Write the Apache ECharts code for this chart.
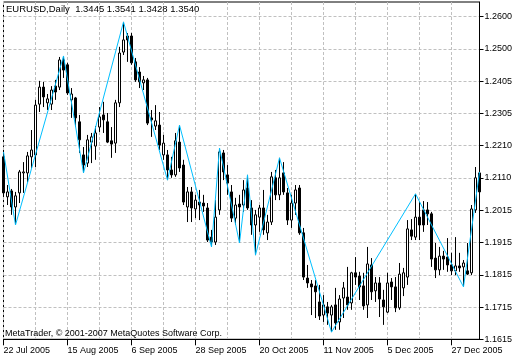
<!DOCTYPE html>
<html><head><meta charset="utf-8">
<script src="https://cdn.jsdelivr.net/npm/echarts@6/dist/echarts.min.js"></script>
<style>html,body{margin:0;padding:0;background:#fff}#c{width:520px;height:360px}</style>
</head><body><div id="c"></div>
<script>
const symbolName = 'EURUSD,Daily';
const lastQuote = ['1.3445', '1.3541', '1.3428', '1.3540'];
const copyright = 'MetaTrader, \u00A9 2001-2007 MetaQuotes Software Corp.';
const barCount = 120;

const open = [1.2172,1.2050,1.2068,1.2019,1.2062,1.2123,1.2123,1.2172,1.2178,1.2333,
1.2385,1.2337,1.2333,1.2388,1.2385,1.2468,1.2453,1.2346,1.2352,1.2279,
1.2178,1.2153,1.2217,1.2205,1.2263,1.2300,1.2279,1.2221,1.2214,1.2337,
1.2492,1.2541,1.2541,1.2462,1.2431,1.2398,1.2407,1.2291,1.2266,1.2269,
1.2178,1.2178,1.2132,1.2117,1.2217,1.2147,1.2019,1.2065,1.2013,1.2034,
1.2031,1.2016,1.1927,1.1912,1.2010,1.2184,1.2117,1.2065,1.1985,1.2028,
1.2025,1.2077,1.2016,1.1964,1.1988,1.2016,1.1940,1.1973,1.2108,1.2056,
1.2123,1.2062,1.1979,1.2031,1.2077,1.1940,1.1802,1.1784,1.1778,1.1729,
1.1689,1.1714,1.1689,1.1720,1.1668,1.1741,1.1744,1.1726,1.1818,1.1808,
1.1778,1.1720,1.1842,1.1763,1.1787,1.1735,1.1698,1.1790,1.1775,1.1711,
1.1772,1.1805,1.1949,1.1927,1.1988,1.2010,1.2010,1.1998,1.1863,1.1827,
1.1869,1.1866,1.1842,1.1824,1.1839,1.1836,1.1824,1.1818,1.2010,1.2123];
const high = [1.2187,1.2086,1.2074,1.2065,1.2132,1.2156,1.2187,1.2254,1.2346,1.2404,
1.2401,1.2364,1.2388,1.2407,1.2477,1.2480,1.2459,1.2382,1.2355,1.2300,
1.2202,1.2239,1.2245,1.2266,1.2324,1.2340,1.2306,1.2263,1.2346,1.2508,
1.2584,1.2550,1.2550,1.2474,1.2446,1.2419,1.2413,1.2315,1.2330,1.2309,
1.2239,1.2193,1.2172,1.2245,1.2269,1.2163,1.2080,1.2080,1.2056,1.2071,
1.2056,1.2031,1.1949,1.2040,1.2199,1.2193,1.2147,1.2086,1.2047,1.2056,
1.2101,1.2117,1.2040,1.2010,1.2025,1.2071,1.1995,1.2126,1.2132,1.2169,
1.2156,1.2077,1.2056,1.2086,1.2086,1.1955,1.1842,1.1796,1.1796,1.1781,
1.1750,1.1729,1.1720,1.1772,1.1750,1.1790,1.1836,1.1821,1.1866,1.1821,
1.1818,1.1897,1.1863,1.1805,1.1805,1.1766,1.1818,1.1802,1.1805,1.1848,
1.1833,1.1979,1.1982,1.2059,1.2034,1.2037,1.2034,1.2004,1.1909,1.1897,
1.1885,1.1924,1.1879,1.1927,1.1879,1.1857,1.1909,1.2025,1.2141,1.2126];
const low = [1.2050,1.2025,1.1995,1.1964,1.2031,1.2062,1.2095,1.2138,1.2141,1.2309,
1.2324,1.2315,1.2315,1.2346,1.2376,1.2413,1.2361,1.2291,1.2263,1.2184,
1.2123,1.2141,1.2153,1.2163,1.2248,1.2245,1.2214,1.2169,1.2184,1.2324,
1.2483,1.2462,1.2453,1.2401,1.2382,1.2376,1.2269,1.2233,1.2254,1.2193,
1.2163,1.2101,1.2108,1.2111,1.2126,1.2025,1.1973,1.1973,1.1985,1.1979,
1.2004,1.1912,1.1897,1.1903,1.1995,1.2101,1.2056,1.1973,1.1964,1.1909,
1.2004,1.2010,1.1934,1.1872,1.1943,1.1934,1.1918,1.1964,1.2040,1.2040,
1.2056,1.1964,1.1955,1.1995,1.1934,1.1796,1.1772,1.1689,1.1680,1.1674,
1.1668,1.1659,1.1637,1.1644,1.1644,1.1680,1.1705,1.1705,1.1781,1.1735,
1.1705,1.1680,1.1735,1.1729,1.1683,1.1659,1.1695,1.1735,1.1698,1.1705,
1.1747,1.1781,1.1918,1.1918,1.1918,1.1943,1.1964,1.1836,1.1802,1.1811,
1.1827,1.1821,1.1811,1.1811,1.1821,1.1775,1.1811,1.1811,1.2001,1.2056];
const close = [1.2062,1.2065,1.2019,1.2053,1.2126,1.2126,1.2175,1.2193,1.2330,1.2385,
1.2355,1.2349,1.2376,1.2370,1.2468,1.2437,1.2367,1.2364,1.2291,1.2224,
1.2147,1.2224,1.2233,1.2245,1.2294,1.2285,1.2217,1.2211,1.2337,1.2489,
1.2529,1.2529,1.2459,1.2407,1.2401,1.2407,1.2275,1.2285,1.2282,1.2208,
1.2214,1.2132,1.2117,1.2221,1.2138,1.2034,1.2065,1.2016,1.2040,1.2025,
1.2022,1.1918,1.1912,1.1988,1.2187,1.2126,1.2092,1.1985,1.2025,1.2019,
1.2071,1.2016,1.1964,1.1995,1.2016,1.1949,1.1973,1.2111,1.2056,1.2108,
1.2065,1.1979,1.2031,1.2071,1.1940,1.1805,1.1787,1.1775,1.1760,1.1686,
1.1720,1.1695,1.1714,1.1665,1.1738,1.1772,1.1720,1.1818,1.1805,1.1775,
1.1717,1.1845,1.1760,1.1787,1.1738,1.1714,1.1787,1.1775,1.1711,1.1814,
1.1818,1.1952,1.1930,1.1988,1.1964,1.1964,1.1998,1.1860,1.1827,1.1869,
1.1860,1.1842,1.1824,1.1839,1.1833,1.1848,1.1814,1.2013,1.2108,1.2065];

// ZigZag pivots: bar index and whether it is a high or a low
const zzIdx  = [0, 3, 15, 20, 30, 41, 44, 52, 54, 59, 61, 63, 69, 82, 103, 115, 119];
const zzKind = ['H','L','H','L','H','L','H','L','H','L','H','L','H','L','H','L','H'];

// price scale tick labels (bottom to top)
const priceLabels = ['1.1615','1.1715','1.1815','1.1915','1.2015','1.2110','1.2210','1.2305','1.2405','1.2500','1.2600'];

const months = ['Jan','Feb','Mar','Apr','May','Jun','Jul','Aug','Sep','Oct','Nov','Dec'];
const categories = [];
{
  const d = new Date(Date.UTC(2005, 6, 22));
  while (categories.length < barCount) {
    const wd = d.getUTCDay();
    if (wd !== 0 && wd !== 6) categories.push(d.getUTCDate() + ' ' + months[d.getUTCMonth()] + ' ' + d.getUTCFullYear());
    d.setUTCDate(d.getUTCDate() + 1);
  }
}

const ohlc = open.map((o, i) => [o, close[i], low[i], high[i]]);
const zz = new Array(barCount).fill(null);
zzIdx.forEach((ix, k) => { zz[ix] = zzKind[k] === 'H' ? high[ix] : low[ix]; });

const lo = parseFloat(priceLabels[0]);
const hi = parseFloat(priceLabels[priceLabels.length - 1]);
const yTicks = priceLabels.map((_, k) => lo + k * (hi - lo) / (priceLabels.length - 1));

const FONT = 'Liberation Sans';
const chart = echarts.init(document.getElementById('c'), null, {renderer: 'canvas'});
chart.setOption({
  animation: false,
  backgroundColor: '#fff',
  grid: {left: 3.5, right: 40.5, top: 2, bottom: 20.7, show: true, borderColor: '#000', borderWidth: 1, backgroundColor: '#fff', containLabel: false, outerBoundsMode: 'none'},
  xAxis: {
    type: 'category', data: categories, boundaryGap: false,
    axisLine: {show: true, lineStyle: {color: '#000', width: 1}},
    axisTick: {show: true, interval: 15, length: 6, lineStyle: {color: '#000'}},
    axisLabel: {interval: 15, align: 'left', margin: 7, fontSize: 9, fontFamily: FONT, color: '#000'},
    splitLine: {show: true, interval: 7, lineStyle: {color: '#c0c0c0', type: [3, 2], width: 1}}
  },
  yAxis: {
    type: 'value', position: 'right', min: lo, max: 1.26448, scale: true,
    axisLine: {show: true, lineStyle: {color: '#000', width: 1}},
    axisTick: {show: true, length: 4, customValues: yTicks, lineStyle: {color: '#000'}},
    axisLabel: {customValues: yTicks, margin: 5, fontSize: 9, fontFamily: FONT, color: '#000',
      formatter: v => { let b = 0, bd = 1e9; yTicks.forEach((t, k) => { const dd = Math.abs(t - v); if (dd < bd) { bd = dd; b = k; } }); return priceLabels[b]; }},
    splitLine: {show: true, lineStyle: {color: '#c0c0c0', type: [3, 2], width: 1}}
  },
  series: [
    {type: 'candlestick', data: ohlc, barWidth: 3, clip: false, silent: true,
     itemStyle: {color: '#fff', color0: '#000', borderColor: '#000', borderColor0: '#000', borderColorDoji: '#000', borderWidth: 1}},
    {type: 'line', data: zz, connectNulls: true, showSymbol: false, symbol: 'none', silent: true, z: 5,
     lineStyle: {color: '#00BFFF', width: 1}}
  ],
  graphic: [
    {type: 'text', left: 6, top: 4, z: 10, style: {text: symbolName + '  ' + lastQuote.join(' '), font: '9.5px "Liberation Sans"', fill: '#000'}},
    {type: 'text', left: 5, top: 329, z: 10, style: {text: copyright, font: '9px "Liberation Sans"', fill: '#000'}}
  ]
});
</script></body></html>
